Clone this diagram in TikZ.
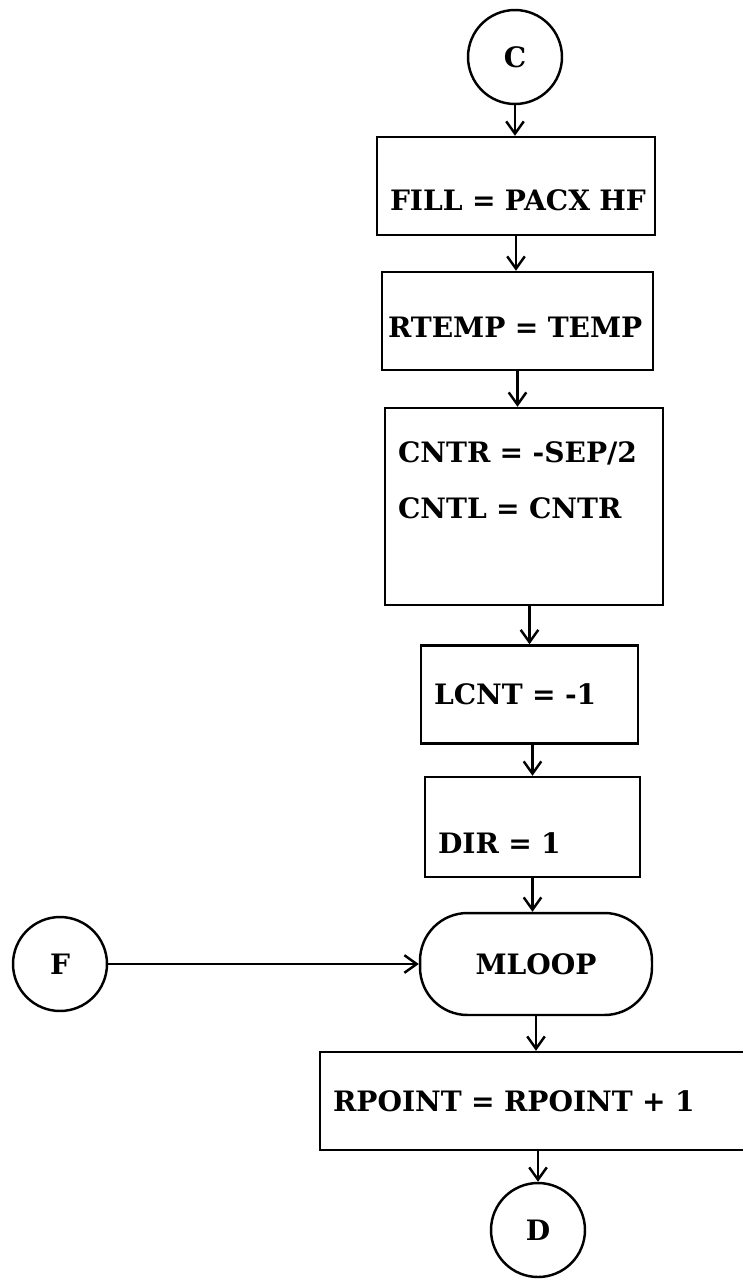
\documentclass[tikz,border=0pt]{standalone}
\usepackage{fontspec}
\setmainfont{DejaVu Serif}
\usetikzlibrary{arrows.meta}
\begin{document}
\begin{tikzpicture}[x=0.02cm,y=-0.02cm,>={Straight Barb[length=7pt,width=10pt]},line width=1.4pt,
  every node/.style={font=\fontsize{16}{19}\selectfont\bfseries},
  conn/.style={draw,circle,minimum size=1.88cm,inner sep=0pt},
  stmt/.style={draw,rectangle,align=left,inner xsep=0.26cm,inner ysep=0pt,minimum height=1.96cm},
  term/.style={draw,rectangle,rounded corners=0.95cm,minimum width=4.64cm,minimum height=2.04cm}]
  \useasboundingbox (0,0) rectangle (743,1279);
  \node[conn] (conC) at (515,57) {C};
  \node[stmt,text width=5.04cm,text height=1.46cm,text depth=0.5cm] (setfill) at (516,186) {FILL~=~PACX~HF};
  \node[stmt,inner xsep=0.12cm,text width=5.18cm,text height=1.3cm,text depth=0.66cm] (settemp) at (517.5,321) {RTEMP~=~TEMP};
  \node[stmt,text width=5.04cm,text height=1.08cm,text depth=2.86cm] (setcntr) at (524,506.5) {CNTR~=~-SEP/2\\[13pt]CNTL~=~CNTR};
  \node[stmt,text width=3.82cm] (setlcnt) at (529.5,694.5) {LCNT~=~-1};
  \node[stmt,text width=3.78cm,text height=1.52cm,text depth=0.48cm] (setdir) at (532.5,827) {DIR~=~1};
  \node[term] (mloop) at (536,964) {MLOOP};
  \node[conn] (conF) at (60,964) {F};
  \node[stmt,text width=8.08cm] (incpoint) at (535,1101) {RPOINT~=~RPOINT~+~1};
  \node[conn] (conD) at (538,1230) {D};
  \draw[->] (conC) -- (conC |- setfill.north);
  \draw[->] (setfill.south) -- (setfill.south |- settemp.north);
  \draw[->] (settemp.south) -- (settemp.south |- setcntr.north);
  \draw[->] (setlcnt.north |- setcntr.south) -- (setlcnt.north);
  \draw[->] (setdir.north |- setlcnt.south) -- (setdir.north);
  \draw[->] (setdir.south) -- (setdir.south |- mloop.north);
  \draw[->] (mloop.south) -- (mloop.south |- incpoint.north);
  \draw[->] (conD |- incpoint.south) -- (conD);
  \draw[->] (conF) -- (mloop);
\end{tikzpicture}
\end{document}
